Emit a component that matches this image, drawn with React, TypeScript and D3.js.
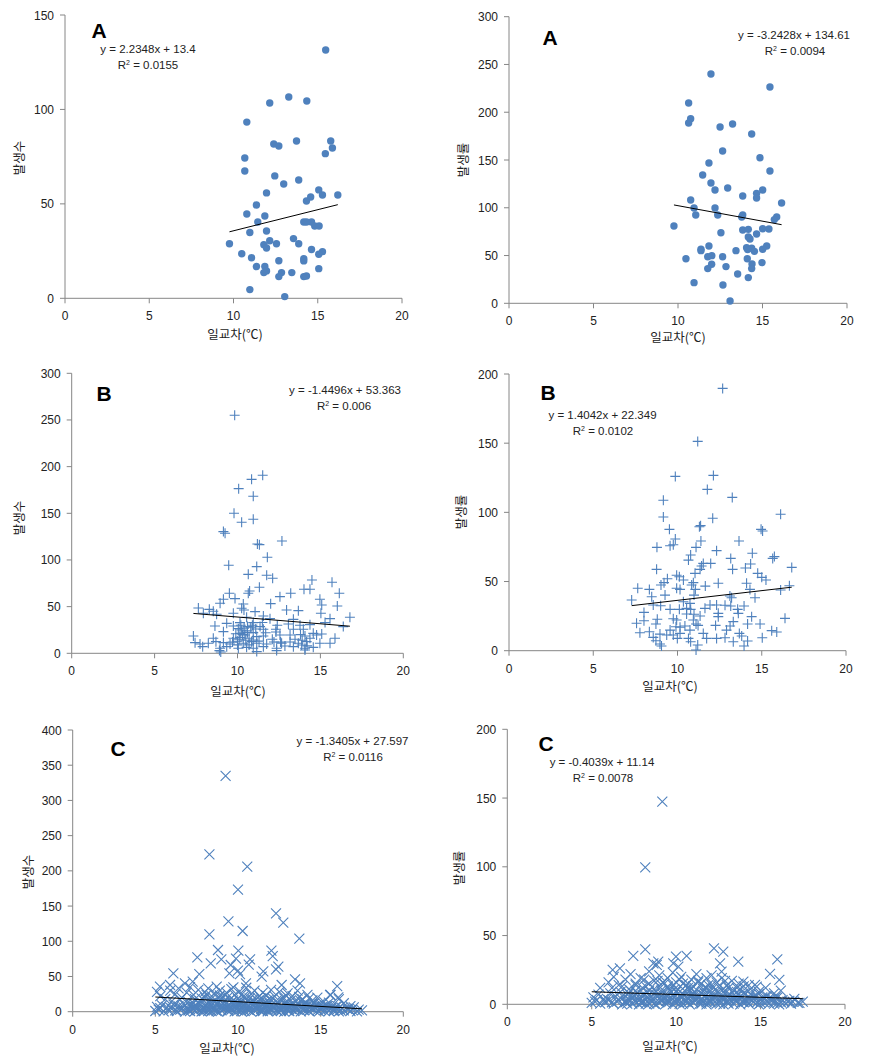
import React from "react";
import * as d3 from "d3";

// ---------- DATA ----------
const xTicks = [0, 5, 10, 15, 20];
const yTicksA1 = [0, 50, 100, 150];
const yTicksA2 = [0, 50, 100, 150, 200, 250, 300];
const yTicksB1 = [0, 50, 100, 150, 200, 250, 300];
const yTicksB2 = [0, 50, 100, 150, 200];
const yTicksC1 = [0, 50, 100, 150, 200, 250, 300, 350, 400];
const yTicksC2 = [0, 50, 100, 150, 200];

// Panel A (left): 발생수 vs 일교차
const dataA1: [number, number][] = [
  [15.47, 131.5], [13.28, 106.6], [12.15, 103.4], [14.35, 104.5], [10.79, 93.3], [15.77, 83.3],
  [13.74, 83.3], [12.39, 81.7], [12.69, 80.6], [15.87, 79.6], [15.45, 76.6], [10.67, 74.3],
  [10.67, 67.4], [12.45, 64.8], [13.87, 62.6], [12.98, 60.5], [15.06, 57.4], [11.96, 55.8],
  [16.19, 54.7], [15.28, 54.7], [14.58, 53.6], [14.33, 51.5], [11.36, 49.4], [10.79, 44.6],
  [11.86, 43.6], [11.44, 40.4], [14.17, 40.4], [14.63, 40.4], [14.33, 40.4], [14.82, 38.3],
  [15.08, 38.3], [11.96, 35.6], [10.97, 34.8], [13.56, 31.6], [13.87, 28.9], [12.15, 30.5],
  [11.8, 28.4], [12.55, 28.9], [11.96, 26.6], [9.76, 28.9], [14.63, 25.8], [15.28, 24.7],
  [15.06, 23.3], [10.49, 23.6], [11.07, 21.5], [14.17, 21.0], [14.17, 19.8], [12.69, 19.9],
  [11.36, 16.8], [11.86, 16.8], [11.96, 14.5], [11.8, 13.6], [15.06, 15.7], [12.85, 13.6],
  [13.46, 13.6], [12.69, 11.5], [14.17, 11.5], [14.33, 11.8], [10.97, 4.6], [13.04, 0.9],
];

// Panel A (right): 발생률 vs 일교차
const dataA2: [number, number][] = [
  [11.95, 240], [15.44, 226.4], [10.63, 209.6], [10.75, 193.2], [10.63, 188.7], [13.23, 187.7],
  [12.49, 184.5], [14.36, 177.2], [12.64, 159.4], [14.85, 152.4], [11.83, 146.8], [15.44, 138.5],
  [11.46, 134.3], [11.95, 125.9], [12.94, 120.7], [12.19, 118.6], [15.01, 118.6], [14.65, 115.1],
  [14.65, 110.2], [13.83, 112.3], [16.13, 105], [10.75, 108.1], [10.95, 99.8], [12.19, 99.8],
  [11.05, 92.4], [12.35, 92.4], [13.83, 92.4], [13.77, 90.3], [15.84, 90.3], [15.7, 87.6],
  [9.76, 80.9], [15.01, 78.1], [15.38, 77.8], [13.83, 76.7], [14.16, 77.4], [12.54, 73.9],
  [14.65, 72.6], [14.16, 69.4], [14.26, 67.3], [11.83, 60], [15.25, 60], [11.36, 56.5],
  [11.36, 55.1], [14.06, 58.2], [14.36, 57.6], [14.12, 56.2], [13.43, 55.1], [14.52, 54.4],
  [15.01, 56.5], [10.47, 46.7], [11.76, 48.8], [12.0, 49.9], [12.64, 48.8], [14.1, 46.7],
  [14.97, 42.6], [14.38, 41.2], [11.99, 40.8], [11.76, 36.3], [12.84, 38.4], [14.36, 36.3],
  [13.53, 30.7], [14.16, 26.9], [10.95, 21.6], [12.66, 19.2], [13.08, 2.4],
];

// Panel B (left)
const dataB1: [number, number][] = [
  [9.83, 255], [11.52, 190.7], [10.85, 186.4], [10.07, 176.4], [10.95, 168.2], [9.79, 150],
  [10.95, 143.6], [10.25, 140.4], [9.15, 130.4], [9.25, 128.6], [12.68, 120.4], [11.2, 117.1],
  [11.32, 116.4], [11.8, 102.9], [9.47, 94.3], [11.16, 92.9], [10.65, 84.6], [11.76, 83.6],
  [12.12, 80.4], [14.49, 78.6], [15.7, 76.1], [14.01, 68.6], [14.37, 68.6], [11.32, 70.7],
  [10.73, 66.8], [10.65, 64.3], [13.21, 64.3], [16.14, 64.3], [9.51, 64.3], [12.56, 60.7],
  [9.15, 57.9], [9.85, 58.6], [8.95, 53.6], [10.35, 52.9], [12.0, 53.2], [14.97, 57.9],
  [15.08, 51.8], [16.02, 50.7], [7.64, 48.6], [8.3, 47.1], [10.25, 48.2], [10.39, 46.4],
  [8.54, 45], [7.94, 42.9], [12.96, 46.4], [13.67, 45.7], [15.03, 42.9], [8.74, 41.8],
  [9.75, 42.9], [11.06, 44.6], [16.78, 38.6], [15.58, 37.1], [13.37, 36.4], [11.96, 37.1],
  [11.56, 40], [10.55, 38.6], [15.28, 32.9], [14.37, 30.7], [13.77, 30], [13.07, 31.4],
  [16.38, 28.6], [10.15, 32.9], [9.35, 32.1], [10.95, 32.9], [9.75, 29.3], [8.64, 29.3],
  [10.05, 26.4], [10.6, 28.6], [11.56, 25.7], [12.32, 25.7], [13.37, 25.7], [13.97, 25.7],
  [7.34, 18.6], [9.15, 23.2], [10.15, 21.4], [10.6, 22.1], [10.95, 22.1], [12.32, 22.9],
  [12.56, 19.6], [14.77, 19.6], [15.08, 20.7], [11.56, 18.6], [14.07, 18.6], [15.88, 16.1],
  [9.75, 16.1], [10.15, 17.1], [10.7, 16.1], [8.54, 16.1], [7.44, 11.4], [7.74, 10],
  [8.24, 10.7], [8.7, 12.5], [9.15, 11.4], [9.55, 10], [10.0, 12.9], [10.35, 10.7],
  [10.85, 12.5], [11.16, 10.7], [11.76, 10], [12.2, 12.1], [12.66, 10.7], [13.17, 12.1],
  [13.67, 10.7], [14.17, 12.5], [14.97, 10.7], [15.58, 10.7], [7.9, 7.1], [8.95, 5.4],
  [8.91, 2.9], [8.99, 1.4], [10.55, 6.4], [11.56, 7.1], [12.36, 5.4], [12.36, 2.9],
  [11.16, 1.8], [13.37, 7.1], [14.07, 5.4], [14.07, 3.6], [14.57, 6.4], [9.35, 7.1],
  [10.05, 5.4], [10.95, 5.4], [12.86, 7.9], [13.87, 8.9], [10.95, 14.3], [10.45, 19.6],
  [10.25, 25], [11.36, 28.6], [11.16, 17.9], [12.1, 15], [13.17, 19.6], [13.47, 15],
  [14.37, 16.1], [14.57, 21.4], [10.2, 30], [10.4, 27], [10.6, 24], [10.8, 28],
  [10.3, 20], [10.5, 14], [10.7, 9], [10.9, 30], [11.1, 26], [10.1, 15], [9.9, 21],
  [9.7, 12], [10.0, 9], [11.3, 13], [11.5, 33], [11.7, 22], [12.4, 30], [12.6, 12],
  [13.9, 14], [14.2, 8], [13.8, 20],
];

// Panel B (right)
const dataB2: [number, number][] = [
  [12.68, 189.6], [11.2, 151.3], [9.87, 126], [12.13, 126.7], [11.77, 116.6], [13.25, 110.8],
  [9.16, 108.7], [16.12, 98.6], [9.16, 96.6], [12.09, 95.7], [11.37, 90.4], [11.3, 89.6],
  [9.52, 87.7], [14.96, 87.7], [15.05, 86.5], [9.87, 80.7], [11.39, 79.3], [13.65, 79.3],
  [8.78, 74.7], [9.56, 75.9], [9.75, 76.6], [11.1, 74.7], [12.32, 72.3], [14.44, 70.4],
  [10.78, 69.2], [15.75, 68], [15.65, 66.7], [13.16, 66.7], [10.65, 65.5], [11.53, 63.1],
  [11.97, 63.1], [14.34, 62.7], [11.43, 61.2], [16.78, 60.2], [11.34, 58.8], [11.04, 55.9],
  [8.76, 58.8], [14.03, 59.8], [13.27, 58.8], [9.95, 54.5], [10.11, 53.5], [9.4, 52],
  [10.35, 51.1], [14.76, 55.9], [15.0, 53], [15.25, 51.1], [10.94, 49.2], [9.2, 49.2],
  [9.02, 47.5], [10.84, 47.5], [11.65, 46.7], [12.42, 48.7], [14.1, 48.7], [16.64, 47],
  [7.64, 45.1], [8.33, 44.3], [9.95, 45.1], [10.15, 44.3], [11.06, 44.3], [14.3, 44.3],
  [16.12, 43.9], [9.26, 40.2], [8.47, 39], [10.98, 40.2], [13.11, 39.5], [13.21, 38.3],
  [14.6, 38.3], [7.28, 36.6], [8.56, 33], [9.0, 32.5], [10.35, 35.4], [10.74, 34.2],
  [11.93, 33], [12.32, 33], [12.82, 32.8], [13.16, 32.3], [13.95, 32.3], [9.56, 29.9],
  [10.11, 29.9], [10.54, 30.6], [10.78, 29.9], [11.63, 30.6], [13.57, 29.9], [13.61, 27],
  [8.01, 27.7], [10.54, 26.5], [10.98, 26.3], [11.34, 25.1], [12.42, 27], [12.42, 24.6],
  [14.4, 24.6], [16.38, 23.4], [8.8, 22.7], [8.01, 21.7], [9.75, 23.1], [9.95, 22.2],
  [10.94, 22.2], [13.31, 21], [7.57, 19.8], [8.72, 19.3], [11.1, 19.3], [11.22, 18.3],
  [12.26, 18.3], [13.12, 17.8], [14.9, 19.3], [14.16, 19.3], [9.91, 17.3], [10.15, 16.9],
  [10.44, 17.8], [9.56, 14.9], [7.77, 13], [8.33, 13.7], [15.59, 14.5], [15.89, 13.5],
  [8.96, 12], [9.75, 11.3], [13.67, 12.5], [13.81, 10.6], [10.65, 8.9], [10.78, 6.5],
  [11.73, 8.9], [12.32, 8.9], [12.82, 9.4], [15.03, 9.4], [8.56, 9.6], [8.72, 7.2],
  [8.96, 4.8], [9.05, 3.4], [13.95, 3.4], [14.16, 7], [13.31, 6.5], [11.2, 4.1],
  [11.1, 0.5], [9.99, 8.9], [11.53, 12.5], [10.15, 12.5], [12.91, 14.9], [10.74, 14.9],
  [9.36, 11.3],
];

// Panel C (left)
const dataC1: [number, number][] = [
  [9.25, 335], [8.27, 223.4], [10.56, 205.9], [10.0, 173.3], [12.3, 139.6], [9.42, 128.3],
  [12.74, 126.4], [10.28, 114.6], [8.27, 109.8], [13.71, 103.7], [8.79, 87.6], [12.02, 86.6],
  [10.02, 86.6], [7.54, 77.2], [10.73, 74.3], [12.1, 79], [9.88, 75.3], [10.65, 66.7],
  [8.99, 74.3], [8.35, 68.6], [9.56, 66.3], [12.44, 63.9], [12.3, 60.1], [10.0, 58.2],
  [10.12, 53.5], [9.48, 54.4], [11.53, 57.3], [11.43, 49.7], [6.09, 54.4], [7.66, 53.5],
  [13.45, 45.9], [13.75, 40.2], [16.0, 36.4], [5.28, 35.5], [5.89, 37.9], [6.79, 40.2],
  [7.26, 42.6], [10.48, 40.2], [12.64, 37.9], [8.71, 35.5], [9.72, 34.6], [15.57, 23.7],
  [16.07, 20.4],
  [5.1, 28], [5.3, 22], [5.6, 18], [5.9, 30], [6.2, 25], [6.4, 33], [6.6, 20], [6.9, 27],
  [7.1, 35], [7.3, 24], [7.6, 31], [7.8, 19], [8.0, 28], [8.2, 33], [8.4, 22], [8.6, 26],
  [8.9, 30], [9.1, 21], [9.3, 27], [9.6, 32], [9.8, 24], [10.1, 29], [10.3, 21], [10.5, 34],
  [10.8, 25], [11.0, 30], [11.2, 20], [11.5, 27], [11.7, 23], [12.0, 31], [12.2, 22], [12.5, 28],
  [12.8, 19], [13.0, 26], [13.3, 22], [13.6, 30], [13.9, 18], [14.2, 24], [14.5, 16], [14.8, 20],
  [15.2, 14], [15.6, 24], [16.1, 18], [16.4, 12], [16.8, 8],
  [5.0, 1], [5.2, 3], [5.5, 0.5], [5.8, 2], [6.0, 4], [6.3, 1], [6.5, 3], [6.8, 0], [7.0, 2],
  [7.2, 5], [7.4, 1], [7.6, 3], [7.8, 0.5], [8.0, 2], [8.2, 4], [8.4, 1], [8.6, 3], [8.8, 0],
  [9.0, 2], [9.2, 5], [9.4, 1], [9.6, 3], [9.8, 0.5], [10.0, 2], [10.2, 4], [10.4, 1], [10.6, 3],
  [10.8, 0], [11.0, 2], [11.2, 4], [11.4, 1], [11.6, 3], [11.8, 0.5], [12.0, 2], [12.2, 4],
  [12.4, 1], [12.6, 3], [12.8, 0], [13.0, 2], [13.2, 4], [13.4, 1], [13.6, 3], [13.8, 0.5],
  [14.0, 2], [14.3, 1], [14.6, 3], [14.9, 0.5], [15.2, 2], [15.5, 1], [15.8, 3], [16.1, 0.5],
  [16.4, 2], [16.8, 1], [17.2, 0.5], [17.5, 2],
  [5.1, 7], [5.4, 9], [5.7, 6], [6.1, 10], [6.4, 8], [6.7, 11], [6.9, 7], [7.1, 9], [7.3, 12],
  [7.5, 8], [7.7, 10], [7.9, 6], [8.1, 9], [8.3, 11], [8.5, 7], [8.7, 10], [8.9, 8], [9.1, 12],
  [9.3, 6], [9.5, 9], [9.7, 11], [9.9, 7], [10.1, 10], [10.3, 8], [10.5, 12], [10.7, 6], [10.9, 9],
  [11.1, 11], [11.3, 7], [11.5, 10], [11.7, 8], [11.9, 12], [12.1, 6], [12.3, 9], [12.5, 11],
  [12.7, 7], [12.9, 10], [13.1, 8], [13.3, 11], [13.5, 6], [13.7, 9], [13.9, 7], [14.1, 10],
  [14.4, 6], [14.7, 8], [15.0, 5], [15.3, 9], [15.7, 6], [16.0, 8], [16.3, 5], [16.7, 4], [17.0, 6],
  [6.0, 15], [6.5, 17], [7.0, 14], [7.4, 18], [7.7, 15], [8.0, 20], [8.3, 16], [8.6, 14],
  [8.8, 19], [9.0, 17], [9.2, 15], [9.4, 21], [9.7, 16], [10.0, 18], [10.2, 14], [10.4, 20],
  [10.6, 16], [10.9, 17], [11.2, 15], [11.4, 19], [11.7, 14], [12.0, 17], [12.3, 15], [12.6, 18],
  [12.9, 14], [13.2, 16], [13.5, 14], [13.8, 15], [14.1, 13], [14.6, 12], [15.0, 11], [15.5, 13],
  [5.3, 5], [5.9, 6], [6.6, 5], [7.3, 4], [7.9, 6], [8.5, 4], [9.0, 6], [9.5, 4], [10.0, 6],
  [10.5, 5], [11.0, 6], [11.5, 5], [12.0, 4], [12.5, 6], [13.0, 5], [13.5, 4], [14.0, 5],
  [14.5, 4], [15.0, 3], [15.4, 4], [16.0, 3], [16.6, 4], [17.3, 3],
  [6.2, 2], [6.7, 6], [7.1, 1], [7.5, 4], [7.9, 2], [8.3, 7], [8.7, 1], [9.1, 4], [9.5, 7],
  [9.9, 3], [10.3, 6], [10.7, 2], [11.1, 5], [11.5, 1], [11.9, 6], [12.3, 3], [12.7, 5],
  [13.1, 1], [13.5, 7], [13.9, 3], [14.3, 6], [14.8, 2], [15.6, 5], [16.2, 2], [16.9, 3],
  [7.2, 10], [7.6, 13], [8.0, 9], [8.4, 13], [8.8, 11], [9.2, 9], [9.6, 13], [10.0, 11],
  [10.4, 9], [10.8, 13], [11.2, 10], [11.6, 12], [12.0, 9], [12.4, 13], [12.8, 11], [13.2, 9],
  [13.6, 12], [14.0, 10], [14.4, 9], [14.9, 10], [15.4, 8], [15.9, 7],
  [7.0, 3], [7.4, 7], [7.8, 4], [8.2, 1], [8.6, 6], [9.0, 9], [9.4, 3], [9.8, 8], [10.2, 1],
  [10.6, 7], [11.0, 9], [11.4, 4], [11.8, 2], [12.2, 8], [12.6, 1], [13.0, 8], [13.4, 5],
  [13.8, 8], [14.2, 3], [14.6, 7], [15.1, 7], [15.8, 1],
  [8.1, 24], [8.9, 23], [9.5, 17], [10.2, 24], [10.7, 19], [11.3, 22], [12.1, 19], [12.9, 23],
  [13.7, 21], [14.3, 19], [9.9, 13], [10.9, 14], [11.8, 16],
];

// Panel C (right)
const dataC2: [number, number][] = [
  [9.18, 147.4], [8.17, 99.6], [8.17, 40], [12.24, 40.7], [12.79, 38.3], [7.46, 35.2],
  [10.62, 35.2], [9.99, 34.7], [15.99, 32.7], [13.68, 31], [8.65, 29.8], [8.85, 28.6],
  [8.94, 31], [12.6, 29.8], [9.83, 29.8], [10.13, 27.4], [15.56, 22.1], [16.11, 17.7],
  [6.24, 25], [6.67, 26.2], [12.69, 23.8], [13.98, 16.5], [14.77, 12.8], [14.67, 14.1],
  [5.5, 12], [6.0, 16], [6.3, 20], [6.6, 14], [7.0, 18], [7.3, 22], [7.6, 15], [7.9, 19],
  [8.2, 13], [8.4, 24], [8.7, 17], [9.0, 21], [9.3, 15], [9.5, 19], [9.8, 23], [10.0, 16],
  [10.3, 20], [10.6, 14], [10.9, 18], [11.2, 22], [11.5, 15], [11.8, 19], [12.1, 21], [12.4, 16],
  [12.7, 19], [13.0, 14], [13.3, 17], [13.6, 12], [14.0, 13], [14.4, 11], [14.9, 9], [15.3, 12],
  [15.8, 8], [16.2, 10],
  [5.0, 1], [5.2, 2], [5.5, 0.5], [5.8, 1.5], [6.0, 3], [6.3, 0.5], [6.5, 2], [6.8, 0], [7.0, 1.5],
  [7.2, 3], [7.4, 0.5], [7.6, 2], [7.8, 0], [8.0, 1.5], [8.2, 3], [8.4, 0.5], [8.6, 2], [8.8, 0],
  [9.0, 1.5], [9.2, 3], [9.4, 0.5], [9.6, 2], [9.8, 0], [10.0, 1.5], [10.2, 3], [10.4, 0.5],
  [10.6, 2], [10.8, 0], [11.0, 1.5], [11.2, 3], [11.4, 0.5], [11.6, 2], [11.8, 0], [12.0, 1.5],
  [12.2, 3], [12.4, 0.5], [12.6, 2], [12.8, 0], [13.0, 1.5], [13.2, 3], [13.4, 0.5], [13.6, 2],
  [13.8, 0], [14.0, 1.5], [14.3, 0.5], [14.6, 2], [14.9, 0], [15.2, 1.5], [15.5, 0.5], [15.8, 2],
  [16.1, 0], [16.4, 1.5], [16.8, 0.5], [17.2, 1], [17.5, 2],
  [5.1, 5], [5.4, 7], [5.7, 4], [6.1, 8], [6.4, 6], [6.7, 9], [6.9, 5], [7.1, 7], [7.3, 10],
  [7.5, 6], [7.7, 8], [7.9, 4], [8.1, 7], [8.3, 9], [8.5, 5], [8.7, 8], [8.9, 6], [9.1, 10],
  [9.3, 4], [9.5, 7], [9.7, 9], [9.9, 5], [10.1, 8], [10.3, 6], [10.5, 10], [10.7, 4], [10.9, 7],
  [11.1, 9], [11.3, 5], [11.5, 8], [11.7, 6], [11.9, 10], [12.1, 4], [12.3, 7], [12.5, 9],
  [12.7, 5], [12.9, 8], [13.1, 6], [13.3, 9], [13.5, 4], [13.7, 7], [13.9, 5], [14.1, 8],
  [14.4, 4], [14.7, 6], [15.0, 3], [15.3, 6], [15.7, 4], [16.0, 5], [16.3, 3], [16.7, 2.5], [17.0, 4],
  [6.2, 12], [6.8, 13], [7.2, 11], [7.6, 14], [8.0, 12], [8.4, 15], [8.7, 11], [9.0, 13],
  [9.2, 16], [9.5, 12], [9.8, 14], [10.1, 11], [10.4, 15], [10.7, 12], [11.0, 13], [11.3, 16],
  [11.6, 11], [11.9, 14], [12.2, 12], [12.5, 13], [12.8, 11], [13.1, 12], [13.4, 10], [13.8, 11],
  [5.3, 3], [5.9, 4], [6.6, 3], [7.3, 2.5], [7.9, 4], [8.5, 2.5], [9.0, 4], [9.5, 2.5], [10.0, 4],
  [10.5, 3], [11.0, 4], [11.5, 3], [12.0, 2.5], [12.5, 4], [13.0, 3], [13.5, 2.5], [14.0, 3],
  [14.5, 2.5], [15.0, 1], [15.4, 2.5], [16.0, 1], [16.6, 2], [17.3, 1],
  [6.2, 1.5], [6.7, 4.5], [7.1, 0.5], [7.5, 3], [7.9, 1.5], [8.3, 5.5], [8.7, 0.5], [9.1, 3],
  [9.5, 5.5], [9.9, 2], [10.3, 4.5], [10.7, 1.5], [11.1, 4], [11.5, 0.5], [11.9, 4.5], [12.3, 2],
  [12.7, 4], [13.1, 0.5], [13.5, 5.5], [13.9, 2], [14.3, 4.5], [14.8, 1.5], [15.6, 4], [16.2, 1.5],
  [16.9, 2],
  [7.2, 8], [7.6, 10], [8.0, 7], [8.4, 10], [8.8, 9], [9.2, 7], [9.6, 10], [10.0, 9], [10.4, 7],
  [10.8, 10], [11.2, 8], [11.6, 9.5], [12.0, 7], [12.4, 10], [12.8, 9], [13.2, 7], [13.6, 9],
  [14.0, 8], [14.4, 7], [14.9, 7.5], [15.4, 6], [15.9, 5],
  [7.0, 2.5], [7.4, 5.5], [7.8, 3], [8.2, 0.5], [8.6, 4.5], [9.0, 7], [9.4, 2.5], [9.8, 6],
  [10.2, 0.5], [10.6, 5.5], [11.0, 7], [11.4, 3], [11.8, 1.5], [12.2, 6], [12.6, 0.5], [13.0, 6],
  [13.4, 4], [13.8, 6], [14.2, 2.5], [14.6, 5.5], [15.1, 5], [15.8, 0.5],
  [8.1, 18], [8.9, 17], [9.5, 13], [10.2, 18], [10.7, 15], [11.3, 17], [12.1, 14], [12.9, 17],
  [13.7, 15], [14.3, 14], [9.9, 11], [10.9, 11], [11.8, 12],
];

// ---------- LAYOUT ----------
type Marker = "circle" | "plus" | "cross";
interface PanelCfg {
  data: [number, number][];
  yTicks: number[];
  marker: Marker;
  slope: number;
  intercept: number;
  eq1: string;
  r2: string;
  letter: string;
  yTitle: string;
  left: number; right: number; bottom: number; top: number;
  letterPos: [number, number];
  eq1Pos: [number, number];
  eq2Pos: [number, number];
  yTitlePos: [number, number];
  xTitlePos: [number, number];
}

const panels: PanelCfg[] = [
  { data: dataA1, yTicks: yTicksA1, marker: "circle", slope: 2.2348, intercept: 13.4,
    eq1: "y = 2.2348x + 13.4", r2: "0.0155", letter: "A", yTitle: "발생수",
    left: 65, right: 402, bottom: 298.3, top: 15,
    letterPos: [99, 37.5], eq1Pos: [148, 53], eq2Pos: [148, 69], yTitlePos: [18, 158], xTitlePos: [235, 339] },
  { data: dataA2, yTicks: yTicksA2, marker: "circle", slope: -3.2428, intercept: 134.61,
    eq1: "y = -3.2428x + 134.61", r2: "0.0094", letter: "A", yTitle: "발생률",
    left: 509, right: 847, bottom: 303.3, top: 16.7,
    letterPos: [550, 44.5], eq1Pos: [794, 39], eq2Pos: [795, 55], yTitlePos: [462, 160], xTitlePos: [678, 342] },
  { data: dataB1, yTicks: yTicksB1, marker: "plus", slope: -1.4496, intercept: 53.363,
    eq1: "y = -1.4496x + 53.363", r2: "0.006", letter: "B", yTitle: "발생수",
    left: 71.7, right: 403.3, bottom: 653.3, top: 373.3,
    letterPos: [104, 400.5], eq1Pos: [345, 394], eq2Pos: [344, 410], yTitlePos: [18, 518], xTitlePos: [238, 696] },
  { data: dataB2, yTicks: yTicksB2, marker: "plus", slope: 1.4042, intercept: 22.349,
    eq1: "y = 1.4042x + 22.349", r2: "0.0102", letter: "B", yTitle: "발생률",
    left: 509, right: 846, bottom: 650.7, top: 374,
    letterPos: [548, 399.5], eq1Pos: [602.5, 419], eq2Pos: [603, 435], yTitlePos: [460, 512], xTitlePos: [670, 691] },
  { data: dataC1, yTicks: yTicksC1, marker: "cross", slope: -1.3405, intercept: 27.597,
    eq1: "y = -1.3405x + 27.597", r2: "0.0116", letter: "C", yTitle: "발생수",
    left: 72.7, right: 403.3, bottom: 1011.7, top: 730,
    letterPos: [118, 755.5], eq1Pos: [352.5, 745], eq2Pos: [353, 761], yTitlePos: [27, 872], xTitlePos: [227, 1053] },
  { data: dataC2, yTicks: yTicksC2, marker: "cross", slope: -0.4039, intercept: 11.14,
    eq1: "y = -0.4039x + 11.14", r2: "0.0078", letter: "C", yTitle: "발생률",
    left: 507.3, right: 845, bottom: 1004.3, top: 729.3,
    letterPos: [546, 750.5], eq1Pos: [602, 766], eq2Pos: [603, 782], yTitlePos: [458, 868], xTitlePos: [670, 1051] },
];

const BLUE = "#4F81BD";
const AXIS = "#868686";
const NUM_FONT = "'Liberation Sans', Arial, sans-serif";
const KR_FONT = "'Noto Sans CJK KR', sans-serif";

function Panel({ p }: { p: PanelCfg }) {
  const yMax = p.yTicks[p.yTicks.length - 1];
  const x = d3.scaleLinear().domain([0, 20]).range([p.left, p.right]);
  const y = d3.scaleLinear().domain([0, yMax]).range([p.bottom, p.top]);
  const [xmin, xmax] = d3.extent(p.data, (d) => d[0]) as [number, number];
  const line = d3.line<number>().x((v) => x(v)).y((v) => y(p.slope * v + p.intercept));

  const mark = (d: [number, number], i: number) => {
    const cx = x(d[0]);
    const cy = y(d[1]);
    if (p.marker === "circle")
      return <circle key={i} cx={cx} cy={cy} r={3.7} fill={BLUE} />;
    if (p.marker === "plus") {
      const s = 5;
      return (
        <path key={i} d={`M${cx - s},${cy}H${cx + s}M${cx},${cy - s}V${cy + s}`}
          stroke={BLUE} strokeWidth={1.1} fill="none" />
      );
    }
    const s = 5;
    return (
      <path key={i} d={`M${cx - s},${cy - s}L${cx + s},${cy + s}M${cx - s},${cy + s}L${cx + s},${cy - s}`}
        stroke={BLUE} strokeWidth={1.1} fill="none" />
    );
  };

  return (
    <g>
      <line x1={p.left} x2={p.left} y1={p.top} y2={p.bottom} stroke={AXIS} strokeWidth={1} />
      <line x1={p.left} x2={p.right} y1={p.bottom} y2={p.bottom} stroke={AXIS} strokeWidth={1} />
      {p.yTicks.map((t) => (
        <g key={"y" + t}>
          <line x1={p.left - 5} x2={p.left} y1={y(t)} y2={y(t)} stroke={AXIS} />
          <text x={p.left - 11} y={y(t) + 4.5} textAnchor="end" fontSize={12}
            fontFamily={NUM_FONT} fill="#222">{t}</text>
        </g>
      ))}
      {xTicks.map((t) => (
        <g key={"x" + t}>
          <line x1={x(t)} x2={x(t)} y1={p.bottom} y2={p.bottom + 5} stroke={AXIS} />
          <text x={x(t)} y={p.bottom + 22} textAnchor="middle" fontSize={12}
            fontFamily={NUM_FONT} fill="#222">{t}</text>
        </g>
      ))}
      {p.data.map(mark)}
      <path d={line([xmin, xmax]) || ""} stroke="#000" strokeWidth={1} fill="none" />
      <text x={p.letterPos[0]} y={p.letterPos[1]} textAnchor="middle" fontSize={21}
        fontWeight="bold" fontFamily={NUM_FONT} fill="#000">{p.letter}</text>
      <text x={p.eq1Pos[0]} y={p.eq1Pos[1]} textAnchor="middle" fontSize={11.5}
        fontFamily={NUM_FONT} fill="#222">{p.eq1}</text>
      <text x={p.eq2Pos[0]} y={p.eq2Pos[1]} textAnchor="middle" fontSize={11.5}
        fontFamily={NUM_FONT} fill="#222">
        R<tspan dy={-4} fontSize={7}>2</tspan><tspan dy={4}> = {p.r2}</tspan>
      </text>
      <text transform={`translate(${p.yTitlePos[0]},${p.yTitlePos[1]}) rotate(-90)`}
        textAnchor="middle" dominantBaseline="central" fontSize={12.5}
        fontFamily={KR_FONT} fill="#222">{p.yTitle}</text>
      <text x={p.xTitlePos[0]} y={p.xTitlePos[1]} textAnchor="middle" fontSize={12.5}
        fontFamily={KR_FONT} fill="#222">일교차(℃)</text>
    </g>
  );
}

export default function App() {
  return (
    <svg width={879} height={1062} style={{ position: "absolute", left: 0, top: 0, background: "#fff" }}>
      <rect width={879} height={1062} fill="#fff" />
      {panels.map((p, i) => (
        <Panel key={i} p={p} />
      ))}
    </svg>
  );
}
